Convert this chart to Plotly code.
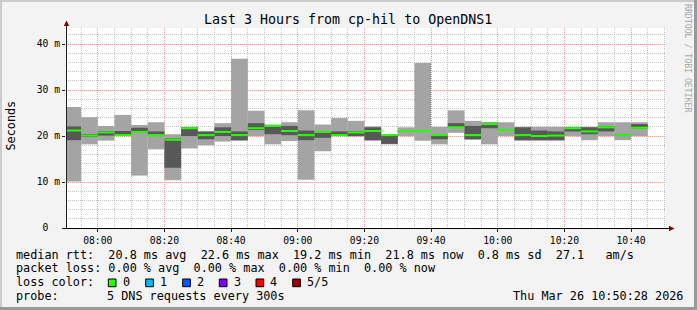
import plotly.graph_objects as go
from datetime import datetime, timedelta

# ---------------- data ----------------
DATE = "2026-03-26"
interval_start = ["07:50", "07:55", "08:00", "08:05", "08:10", "08:15", "08:20", "08:25",
                  "08:30", "08:35", "08:40", "08:45", "08:50", "08:55", "09:00", "09:05",
                  "09:10", "09:15", "09:20", "09:25", "09:30", "09:35", "09:40", "09:45",
                  "09:50", "09:55", "10:00", "10:05", "10:10", "10:15", "10:20", "10:25",
                  "10:30", "10:35", "10:40"]
# five sorted DNS pings per interval (ms)
ping_min = [10.1, 18.2, 19.0, 20.0, 11.4, 17.1, 10.4, 17.3, 18.0, 18.8, 19.0, 20.0,
            18.2, 18.9, 10.5, 16.7, 20.0, 19.9, 19.0, 18.2, 20.0, 19.0, 18.2, 20.7,
            19.2, 18.2, 20.0, 19.0, 19.0, 19.0, 20.0, 19.1, 20.0, 19.1, 20.0]
ping_p2 = [19.1, 19.8, 20.1, 20.1, 20.7, 20.0, 13.1, 20.0, 19.3, 20.0, 19.1, 21.3,
           20.4, 20.2, 19.1, 19.6, 20.0, 20.0, 19.1, 18.3, 20.9, 20.9, 19.3, 21.8,
           19.3, 21.7, 21.1, 19.1, 19.1, 19.1, 21.0, 20.4, 21.0, 20.0, 21.6]
median_rtt = [21.2, 20.1, 20.8, 20.2, 20.9, 20.2, 19.2, 21.7, 20.2, 20.9, 20.2, 21.7,
              22.2, 21.1, 20.2, 20.9, 20.2, 20.8, 21.1, 20.2, 21.1, 21.1, 20.2, 21.9,
              20.2, 22.6, 21.3, 20.2, 20.0, 20.1, 21.7, 21.0, 21.9, 20.2, 21.8]
ping_p4 = [22.1, 20.4, 21.1, 21.1, 21.8, 21.0, 19.5, 21.9, 21.0, 21.9, 21.0, 22.8,
           22.3, 22.2, 21.2, 21.1, 21.0, 21.1, 21.9, 20.3, 21.3, 21.3, 20.3, 22.8,
           22.2, 22.9, 21.5, 21.9, 21.2, 21.0, 21.9, 21.9, 22.1, 20.4, 22.6]
ping_max = [26.3, 24.1, 22.2, 24.6, 22.4, 23.0, 20.4, 22.0, 21.0, 22.8, 36.8, 25.5,
            22.5, 23.0, 25.6, 22.5, 23.9, 23.3, 22.1, 20.4, 21.9, 35.9, 22.0, 25.6,
            23.3, 23.0, 23.0, 22.0, 22.0, 22.0, 22.0, 22.0, 23.0, 23.0, 23.0]

y_tickvals = [0, 10, 20, 30, 40]
y_ticktext = ["0\u00a0\u00a0", "10 m", "20 m", "30 m", "40 m"]

title_text = "Last 3 Hours from cp-hil to OpenDNS1"
legend_line1 = "median rtt:  20.8 ms avg  22.6 ms max  19.2 ms min  21.8 ms now  0.8 ms sd  27.1   am/s"
legend_line2 = "packet loss: 0.00 % avg  0.00 % max  0.00 % min  0.00 % now"
loss_labels = ["0", "1", "2", "3", "4", "5/5"]
loss_colors = ["#26ff00", "#00b8ff", "#0059ff", "#7e00ff", "#ff0000", "#a10000"]
probe_text = "5 DNS requests every 300s"
stamp_text = "Thu Mar 26 10:50:28 2026"

# ---------------- figure ----------------
W, H = 697, 310
L, T, PW, PH = 66, 28, 600, 200


def PX(x):
    return (x - L) / PW


def PY(y):
    return (T + PH - y) / PH


centers = [datetime.strptime(DATE + " " + s, "%Y-%m-%d %H:%M") + timedelta(seconds=150)
           for s in interval_start]
BW = 300000  # 5 minutes in ms

fig = go.Figure()
fig.add_trace(go.Bar(x=centers, base=ping_min, y=[b - a for a, b in zip(ping_min, ping_max)],
                     width=BW, marker=dict(color="#a4a4a4", line=dict(width=0)), hoverinfo="skip"))
fig.add_trace(go.Bar(x=centers, base=ping_p2, y=[b - a for a, b in zip(ping_p2, ping_p4)],
                     width=BW, marker=dict(color="#585858", line=dict(width=0)), hoverinfo="skip"))
fig.add_trace(go.Bar(x=centers, base=[m - 0.22 for m in median_rtt], y=[0.44] * len(median_rtt),
                     width=BW, marker=dict(color=loss_colors[0], line=dict(width=0)), hoverinfo="skip"))

mono = "DejaVu Sans Mono"
fig.update_layout(
    width=W, height=H,
    margin=dict(l=L, r=W - L - PW, t=T, b=H - T - PH, pad=0),
    paper_bgcolor="#f3f3f3", plot_bgcolor="#ffffff",
    barmode="overlay", showlegend=False,
    font=dict(family=mono, size=10, color="#000000"),
    xaxis=dict(
        type="date",
        range=[DATE + " 07:50:28", DATE + " 10:50:28"],
        tick0=DATE + " 08:00:00", dtick=1200000, tickformat="%H:%M",
        showgrid=True, gridcolor="#f09a9a", griddash="1px,1px", gridwidth=1,
        ticks="outside", ticklen=3, tickcolor="#202020",
        tickfont=dict(family=mono, size=9.7),
        minor=dict(dtick=300000, showgrid=True, gridcolor="#c4c4c4", griddash="1px,1px", gridwidth=1),
        showline=False, zeroline=False, fixedrange=True,
    ),
    yaxis=dict(
        range=[0, 43.5],
        tickvals=y_tickvals, ticktext=y_ticktext,
        showgrid=True, gridcolor="#f09a9a", griddash="1px,1px", gridwidth=1,
        ticks="outside", ticklen=3, tickcolor="#202020",
        tickfont=dict(family=mono, size=9.7),
        minor=dict(dtick=2, showgrid=True, gridcolor="#c4c4c4", griddash="1px,1px", gridwidth=1),
        showline=False, zeroline=False, fixedrange=True,
    ),
)

shapes = []
# frame
shapes.append(dict(type="rect", xref="paper", yref="paper", x0=PX(0), x1=PX(W), y0=PY(0), y1=PY(2),
                   fillcolor="#cbcbcb", line=dict(width=0), layer="above"))
shapes.append(dict(type="rect", xref="paper", yref="paper", x0=PX(0), x1=PX(2), y0=PY(0), y1=PY(H),
                   fillcolor="#cbcbcb", line=dict(width=0), layer="above"))
shapes.append(dict(type="rect", xref="paper", yref="paper", x0=PX(0), x1=PX(W), y0=PY(H - 3), y1=PY(H),
                   fillcolor="#999999", line=dict(width=0), layer="above"))
shapes.append(dict(type="rect", xref="paper", yref="paper", x0=PX(W - 3), x1=PX(W), y0=PY(0), y1=PY(H),
                   fillcolor="#999999", line=dict(width=0), layer="above"))
# axes
shapes.append(dict(type="line", xref="paper", yref="paper", x0=PX(66.5), x1=PX(66.5), y0=PY(228.5), y1=PY(24),
                   line=dict(color="#202020", width=1), layer="above"))
shapes.append(dict(type="line", xref="paper", yref="paper", x0=PX(63), x1=PX(671), y0=PY(228.5), y1=PY(228.5),
                   line=dict(color="#000000", width=1), layer="above"))
# arrows
shapes.append(dict(type="path", xref="paper", yref="paper",
                   path="M {} {} L {} {} L {} {} Z".format(PX(63.8), PY(26), PX(69.2), PY(26), PX(66.5), PY(20.5)),
                   fillcolor="#800000", line=dict(width=0), layer="above"))
shapes.append(dict(type="path", xref="paper", yref="paper",
                   path="M {} {} L {} {} L {} {} Z".format(PX(669), PY(225.8), PX(669), PY(231.2), PX(674.5), PY(228.5)),
                   fillcolor="#800000", line=dict(width=0), layer="above"))

annotations = []


def txt(s, x, y, size=11.8, color="#000000", xanchor="left", angle=0):
    annotations.append(dict(text=s, x=PX(x), y=PY(y), xref="paper", yref="paper",
                            xanchor=xanchor, yanchor="middle", showarrow=False,
                            textangle=angle, borderpad=0, borderwidth=0,
                            font=dict(family=mono, size=size, color=color)))


txt(title_text, 348, 19.5, size=13.3, xanchor="center")
txt("Seconds", 10.5, 126, size=11.8, xanchor="center", angle=-90)
txt("RRDTOOL / TOBI OETIKER", 687.5, 58.5, size=8.2, color="#a8a8a8", xanchor="center", angle=90)

pre = lambda s: s.replace(" ", "\u00a0")
txt(pre(legend_line1), 15.5, 254.5)
txt(pre(legend_line2), 15.5, 268)
txt(pre("loss color:"), 15.5, 282)
box_x = [108.3, 145.7, 182.7, 219.3, 256.0, 292.7]
for bx, lab, col in zip(box_x, loss_labels, loss_colors):
    shapes.append(dict(type="rect", xref="paper", yref="paper", x0=PX(bx), x1=PX(bx + 7.7),
                       y0=PY(279), y1=PY(286.7), fillcolor=col,
                       line=dict(color="#000000", width=1), layer="above"))
    txt(lab, bx + 14.2, 282)
txt(pre("probe:"), 15.5, 295.5)
txt(pre(probe_text), 106.5, 295.5)
txt(pre(stamp_text), 512.5, 295.5)

fig.update_layout(shapes=shapes, annotations=annotations)
fig.write_html("out.html", config={"displayModeBar": False, "staticPlot": True})
